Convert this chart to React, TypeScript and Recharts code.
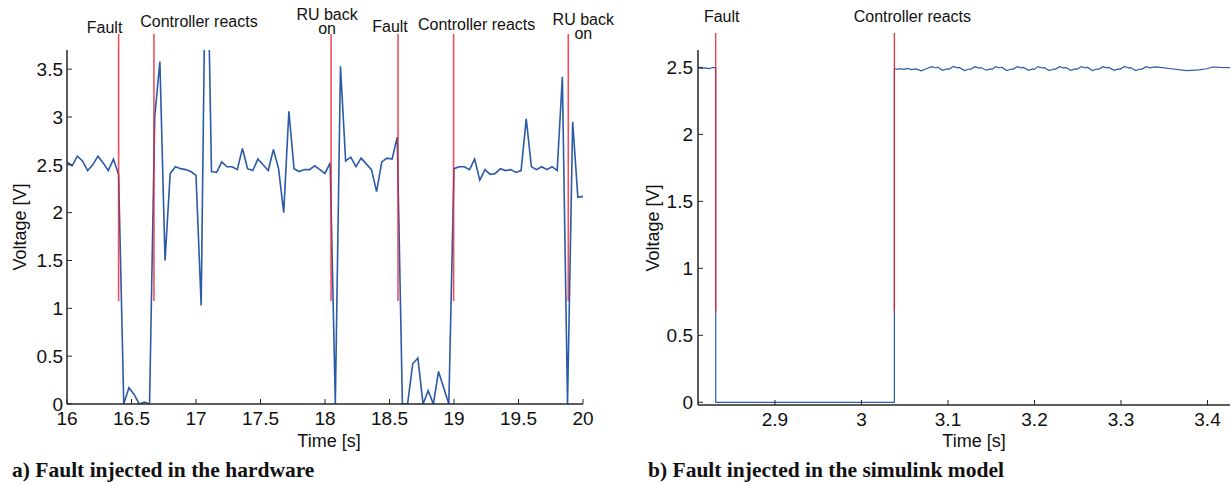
import React from 'react';
import { LineChart, Line, XAxis, YAxis, ReferenceLine } from 'recharts';

const SANS = '"Liberation Sans", Arial, Helvetica, sans-serif';
const SERIF = '"Liberation Serif", "Times New Roman", serif';
const BLUE = '#2a5aa8';
const RED = '#ec2433';
const AXIS = '#262626';
const TEXT = '#111111';

// ---------- a) hardware ----------
const hwTime = [
  16.0, 16.04, 16.08, 16.12, 16.16, 16.2, 16.24, 16.28, 16.32, 16.36,
  16.4, 16.44, 16.48, 16.52, 16.56, 16.6, 16.64, 16.68, 16.72, 16.76,
  16.8, 16.84, 16.88, 16.92, 16.96, 17.0, 17.04, 17.08, 17.12, 17.16,
  17.2, 17.24, 17.28, 17.32, 17.36, 17.4, 17.44, 17.48, 17.52, 17.56,
  17.6, 17.64, 17.68, 17.72, 17.76, 17.8, 17.84, 17.88, 17.92, 17.96,
  18.0, 18.04, 18.08, 18.12, 18.16, 18.2, 18.24, 18.28, 18.32, 18.36,
  18.4, 18.44, 18.48, 18.52, 18.56, 18.6, 18.64, 18.68, 18.72, 18.76,
  18.8, 18.84, 18.88, 18.92, 18.96, 19.0, 19.04, 19.08, 19.12, 19.16,
  19.2, 19.24, 19.28, 19.32, 19.36, 19.4, 19.44, 19.48, 19.52, 19.56,
  19.6, 19.64, 19.68, 19.72, 19.76, 19.8, 19.84, 19.88, 19.92, 19.96,
  20.0,
];
const hwVoltage = [
  2.53, 2.49, 2.59, 2.54, 2.44, 2.5, 2.59, 2.52, 2.44, 2.56,
  2.4, 0, 0.17, 0.1, 0, 0.02, 0, 3.0, 3.58, 1.5,
  2.41, 2.48, 2.46, 2.45, 2.43, 2.39, 1.03, 5.5, 2.43, 2.42,
  2.53, 2.48, 2.48, 2.45, 2.67, 2.46, 2.44, 2.56, 2.5, 2.44,
  2.66, 2.46, 2.0, 3.06, 2.46, 2.43, 2.45, 2.45, 2.49, 2.45,
  2.41, 2.52, 0, 3.53, 2.54, 2.58, 2.48, 2.57, 2.51, 2.45,
  2.22, 2.53, 2.57, 2.56, 2.79, 0, 0, 0.42, 0.48, 0,
  0.14, 0, 0.34, 0.17, 0, 2.46, 2.48, 2.48, 2.45, 2.56,
  2.34, 2.45, 2.4, 2.41, 2.46, 2.44, 2.45, 2.42, 2.44, 2.98,
  2.48, 2.45, 2.48, 2.45, 2.48, 2.44, 3.42, 0, 2.95, 2.16,
  2.17,
];
const hwTimeTicks = [16, 16.5, 17, 17.5, 18, 18.5, 19, 19.5, 20];
const hwVoltageTicks = [0, 0.5, 1, 1.5, 2, 2.5, 3, 3.5];
const hwEventTimes = [16.4, 16.674, 18.047, 18.566, 18.997, 19.886];
const hwEventLabels = ['Fault', 'Controller reacts', 'RU back\non', 'Fault', 'Controller reacts', 'RU back\non'];
const hwMarkerRange = [1.077, 3.867];

// ---------- b) simulink ----------
const simTime = [
  2.811, 2.815, 2.819, 2.824, 2.828, 2.8315, 2.8315, 3.038, 3.038, 3.042, 3.045, 3.049, 3.053, 3.058, 3.063, 3.069, 3.075, 3.081,
  3.086, 3.088, 3.094, 3.099, 3.101, 3.106,
  3.111, 3.113, 3.119, 3.124, 3.126, 3.131,
  3.136, 3.138, 3.144, 3.149, 3.151, 3.155,
  3.16, 3.162, 3.168, 3.173, 3.175, 3.18,
  3.185, 3.187, 3.193, 3.198, 3.2, 3.204,
  3.209, 3.211, 3.217, 3.222, 3.224, 3.229,
  3.234, 3.236, 3.242, 3.247, 3.249, 3.254,
  3.259, 3.261, 3.267, 3.272, 3.274, 3.279,
  3.284, 3.286, 3.292, 3.297, 3.299, 3.304,
  3.309, 3.311, 3.317, 3.322, 3.324, 3.329,
  3.334, 3.336, 3.341, 3.358, 3.376, 3.39, 3.399, 3.406, 3.415, 3.426,
];
const simVoltage = [
  2.497, 2.492, 2.496, 2.491, 2.499, 2.498, 0, 0, 2.49, 2.485, 2.491, 2.486, 2.493, 2.484, 2.489, 2.474, 2.49, 2.506,
  2.496, 2.501, 2.478, 2.489, 2.486, 2.507,
  2.497, 2.5, 2.477, 2.488, 2.485, 2.505,
  2.495, 2.499, 2.479, 2.489, 2.486, 2.506,
  2.496, 2.501, 2.477, 2.488, 2.486, 2.505,
  2.497, 2.5, 2.478, 2.489, 2.485, 2.506,
  2.496, 2.499, 2.477, 2.488, 2.486, 2.505,
  2.495, 2.5, 2.478, 2.489, 2.486, 2.506,
  2.496, 2.501, 2.477, 2.488, 2.485, 2.505,
  2.497, 2.5, 2.478, 2.489, 2.486, 2.507,
  2.496, 2.499, 2.477, 2.488, 2.486, 2.505,
  2.496, 2.5, 2.504, 2.49, 2.476, 2.481, 2.49, 2.503, 2.5, 2.498,
];
const simTimeTicks = [2.9, 3, 3.1, 3.2, 3.3, 3.4];
const simVoltageTicks = [0, 0.5, 1, 1.5, 2, 2.5];
const simEventTimes = [2.8315, 3.038];
const simEventLabels = ['Fault', 'Controller reacts'];
const simMarkerRange = [0.68, 2.756];

const captions = ['a) Fault injected in the hardware', 'b) Fault injected in the simulink model'];

// label layout (pixel offsets from marker line, baseline y)
const hwLabelLayout = [
  { dx: -14, y: 33 },
  { dx: 45, y: 27 },
  { dx: -4, y: 20 },
  { dx: -8, y: 32 },
  { dx: 23, y: 30 },
  { dx: 15, y: 25 },
];
const simLabelLayout = [
  { dx: 6, y: 22 },
  { dx: 18, y: 22 },
];

const hwData = hwTime.map((t, i) => ({ t, v: hwVoltage[i] }));
const simData = simTime.map((t, i) => ({ t, v: simVoltage[i] }));

const fmt = (v: number) => String(v);

function eventLabel(text: string, dx: number, y: number) {
  return (props: any) => {
    const vb = props.viewBox || {};
    const cx = (vb.x ?? 0) + dx;
    const lines = text.split('\n');
    return (
      <text x={cx} y={y} textAnchor="middle" fontSize={16} fontFamily={SANS} fill={TEXT}>
        {lines.map((l, i) => (
          <tspan key={i} x={cx} dy={i === 0 ? 0 : 14}>
            {l}
          </tspan>
        ))}
      </text>
    );
  };
}

function xTitle(dx: number, y: number) {
  return (props: any) => {
    const vb = props.viewBox || {};
    const cx = (vb.x ?? 0) + (vb.width ?? 0) / 2 + dx;
    return (
      <text x={cx} y={y} textAnchor="middle" fontSize={18} fontFamily={SANS} fill={TEXT}>
        Time [s]
      </text>
    );
  };
}

function yTitle(x: number, cy: number) {
  return () => (
    <text
      x={x}
      y={cy}
      textAnchor="middle"
      dominantBaseline="central"
      transform={`rotate(-90, ${x}, ${cy})`}
      fontSize={18}
      fontFamily={SANS}
      fill={TEXT}
    >
      Voltage [V]
    </text>
  );
}

const tickStyle = { fontSize: 19, fill: TEXT, fontFamily: SANS };

export default function App() {
  return (
    <div style={{ position: 'absolute', left: 0, top: 0, width: 1231, height: 485, background: '#fff', overflow: 'hidden' }}>
      <div style={{ position: 'absolute', left: 0, top: 0 }}>
        <LineChart width={616} height={455} data={hwData} margin={{ top: 50, right: 33, bottom: 11, left: 7 }}>
          <XAxis
            dataKey="t"
            type="number"
            domain={[16, 20]}
            ticks={hwTimeTicks}
            interval={0}
            tickFormatter={fmt}
            allowDataOverflow
            height={40}
            tickSize={-5}
            tickMargin={13}
            stroke={AXIS}
            axisLine={{ stroke: AXIS, strokeWidth: 1.5 }}
            tick={tickStyle}
            label={xTitle(4, 447)}
          />
          <XAxis
            xAxisId="top"
            orientation="top"
            type="number"
            domain={[16, 20]}
            ticks={hwTimeTicks}
            interval={0}
            allowDataOverflow
            mirror
            height={0}
            tickSize={5}
            tick={false}
            stroke={AXIS}
            axisLine={{ stroke: AXIS, strokeWidth: 1.5 }}
          />
          <YAxis
            type="number"
            domain={[0, 3.7]}
            ticks={hwVoltageTicks}
            interval={0}
            tickFormatter={fmt}
            allowDataOverflow
            width={60}
            tickSize={-5}
            tickMargin={9}
            stroke={AXIS}
            axisLine={{ stroke: AXIS, strokeWidth: 1.5 }}
            tick={tickStyle}
            label={yTitle(20, 227)}
          />
          <YAxis
            yAxisId="right"
            orientation="right"
            type="number"
            domain={[0, 3.7]}
            ticks={hwVoltageTicks}
            interval={0}
            allowDataOverflow
            mirror
            width={0}
            tickSize={5}
            tick={false}
            stroke={AXIS}
            axisLine={{ stroke: AXIS, strokeWidth: 1.5 }}
          />
          <Line
            dataKey="v"
            type="linear"
            stroke={BLUE}
            strokeWidth={1.6}
            dot={false}
            isAnimationActive={false}
          />
          {hwEventTimes.map((t, i) => (
            <ReferenceLine
              key={`hw${i}`}
              segment={[
                { x: t, y: hwMarkerRange[0] },
                { x: t, y: hwMarkerRange[1] },
              ]}
              ifOverflow="visible"
              stroke={RED}
              strokeOpacity={0.8}
              strokeWidth={1.6}
              label={eventLabel(hwEventLabels[i], hwLabelLayout[i].dx, hwLabelLayout[i].y)}
            />
          ))}
        </LineChart>
      </div>

      <div style={{ position: 'absolute', left: 616, top: 0 }}>
        <LineChart width={615} height={455} data={simData} margin={{ top: 50, right: 1, bottom: 10, left: 22 }}>
          <XAxis
            dataKey="t"
            type="number"
            domain={[2.811, 3.426]}
            ticks={simTimeTicks}
            interval={0}
            tickFormatter={fmt}
            allowDataOverflow
            height={40}
            tickSize={-5}
            tickMargin={13}
            stroke={AXIS}
            axisLine={{ stroke: AXIS, strokeWidth: 1.5 }}
            tick={tickStyle}
            label={xTitle(10, 447)}
          />
          <XAxis
            xAxisId="top"
            orientation="top"
            type="number"
            domain={[2.811, 3.426]}
            ticks={simTimeTicks}
            interval={0}
            allowDataOverflow
            mirror
            height={0}
            tickSize={5}
            tick={false}
            stroke={AXIS}
            axisLine={{ stroke: AXIS, strokeWidth: 1.5 }}
          />
          <YAxis
            type="number"
            domain={[-0.02, 2.63]}
            ticks={simVoltageTicks}
            interval={0}
            tickFormatter={fmt}
            allowDataOverflow
            width={60}
            tickSize={-5}
            tickMargin={10}
            stroke={AXIS}
            axisLine={{ stroke: AXIS, strokeWidth: 1.5 }}
            tick={tickStyle}
            label={yTitle(37, 228)}
          />
          <YAxis
            yAxisId="right"
            orientation="right"
            type="number"
            domain={[-0.02, 2.63]}
            ticks={simVoltageTicks}
            interval={0}
            allowDataOverflow
            mirror
            width={0}
            tickSize={5}
            tick={false}
            stroke="#777"
            axisLine={{ stroke: '#888', strokeWidth: 1.5 }}
          />
          <Line
            dataKey="v"
            type="linear"
            stroke={BLUE}
            strokeWidth={1.2}
            dot={false}
            isAnimationActive={false}
          />
          {simEventTimes.map((t, i) => (
            <ReferenceLine
              key={`sim${i}`}
              segment={[
                { x: t, y: simMarkerRange[0] },
                { x: t, y: simMarkerRange[1] },
              ]}
              ifOverflow="visible"
              stroke={RED}
              strokeWidth={1.2}
              label={eventLabel(simEventLabels[i], simLabelLayout[i].dx, simLabelLayout[i].y)}
            />
          ))}
        </LineChart>
      </div>

      <svg width={1231} height={485} style={{ position: 'absolute', left: 0, top: 0, pointerEvents: 'none' }}>
        <text x={12} y={477} fontFamily={SERIF} fontWeight="bold" fontSize={21.5} fill={TEXT}>
          {captions[0]}
        </text>
        <text x={648} y={477} fontFamily={SERIF} fontWeight="bold" fontSize={21.5} fill={TEXT}>
          {captions[1]}
        </text>
      </svg>
    </div>
  );
}
